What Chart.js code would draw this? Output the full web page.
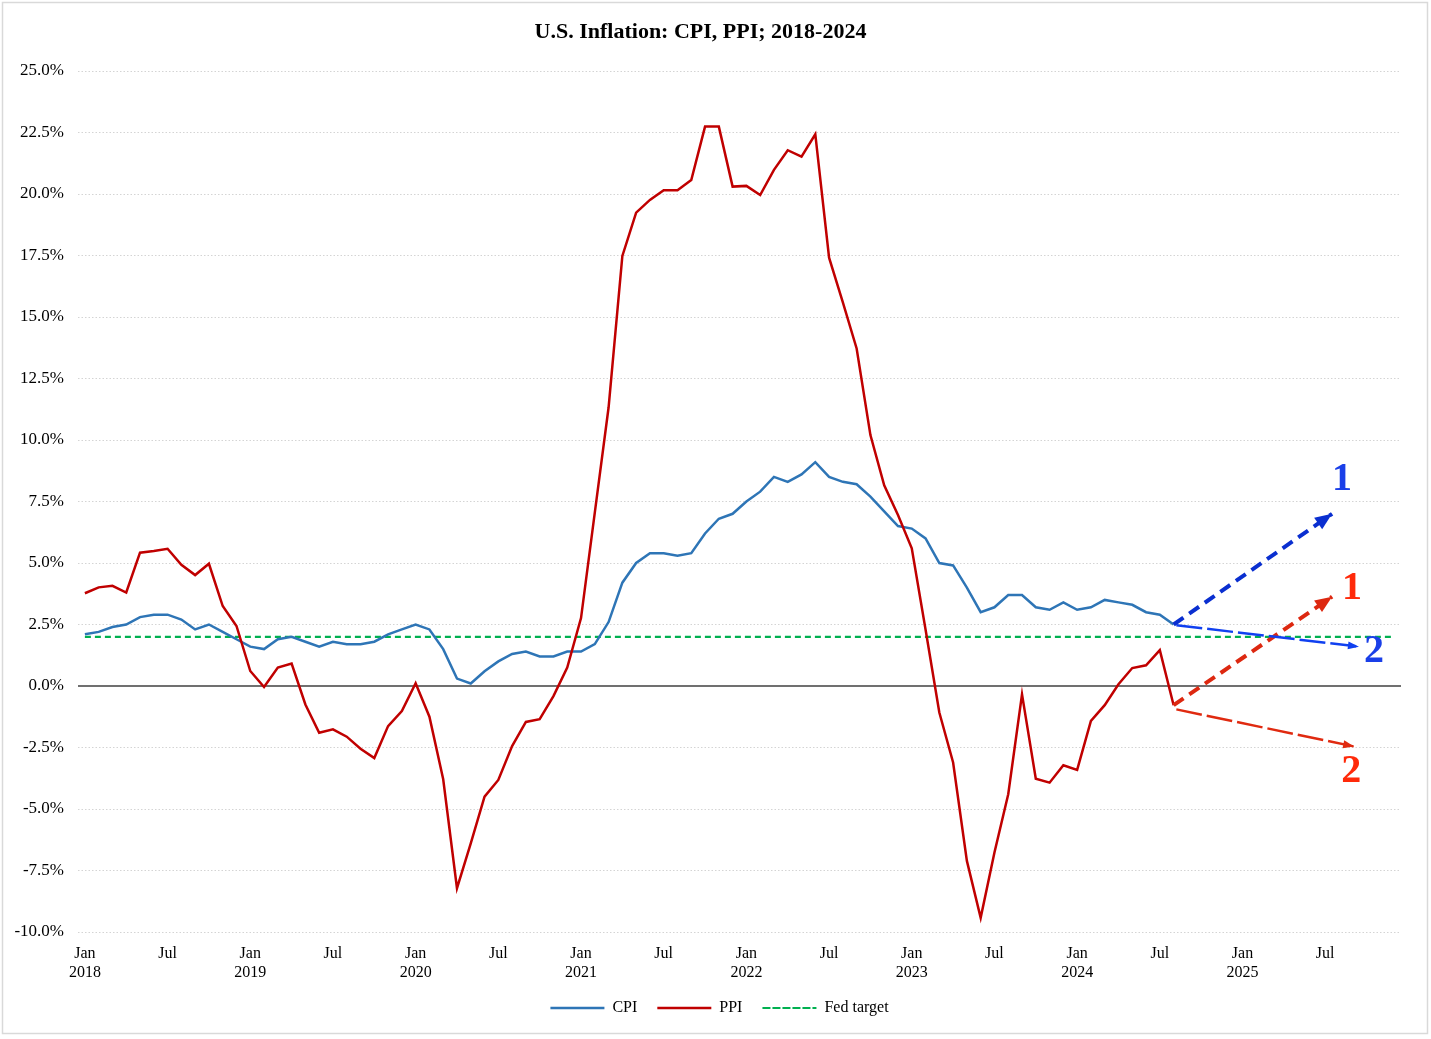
<!DOCTYPE html>
<html>
<head>
<meta charset="utf-8">
<title>U.S. Inflation: CPI, PPI; 2018-2024</title>
<script src="https://cdn.jsdelivr.net/npm/chart.js@4.4.1/dist/chart.umd.min.js"></script>
<style>
  html, body { margin: 0; padding: 0; background: #fff; }
  #wrap { width: 1431px; height: 1039px; position: relative; }
</style>
</head>
<body>
<div id="wrap"><canvas id="chart"></canvas></div>
<script>
// monthly categories, Jan 2018 .. Dec 2025
const years = [2018, 2019, 2020, 2021, 2022, 2023, 2024, 2025];
const monthNames = ['Jan', 'Feb', 'Mar', 'Apr', 'May', 'Jun', 'Jul', 'Aug', 'Sep', 'Oct', 'Nov', 'Dec'];
const months = [];
years.forEach(y => monthNames.forEach(m => months.push(m + ' ' + y)));

// year-over-year %, Jan 2018 .. Aug 2024
const cpi = [
  2.1, 2.2, 2.4, 2.5, 2.8, 2.9, 2.9, 2.7, 2.3, 2.5, 2.2, 1.9,
  1.6, 1.5, 1.9, 2.0, 1.8, 1.6, 1.8, 1.7, 1.7, 1.8, 2.1, 2.3,
  2.5, 2.3, 1.5, 0.3, 0.1, 0.6, 1.0, 1.3, 1.4, 1.2, 1.2, 1.4,
  1.4, 1.7, 2.6, 4.2, 5.0, 5.4, 5.4, 5.3, 5.4, 6.2, 6.8, 7.0,
  7.5, 7.9, 8.5, 8.3, 8.6, 9.1, 8.5, 8.3, 8.2, 7.7, 7.1, 6.5,
  6.4, 6.0, 5.0, 4.9, 4.0, 3.0, 3.2, 3.7, 3.7, 3.2, 3.1, 3.4,
  3.1, 3.2, 3.5, 3.4, 3.3, 3.0, 2.9, 2.5
];
const ppi = [
  3.77, 4.01, 4.07, 3.80, 5.42, 5.49, 5.58, 4.93, 4.51, 4.97, 3.25, 2.44,
  0.61, -0.04, 0.75, 0.91, -0.75, -1.90, -1.76, -2.06, -2.55, -2.93, -1.63, -1.02,
  0.11, -1.25, -3.79, -8.22, -6.40, -4.50, -3.82, -2.44, -1.46, -1.35, -0.41, 0.75,
  2.76, 7.05, 11.32, 17.48, 19.24, 19.76, 20.15, 20.15, 20.57, 22.74, 22.74, 20.30,
  20.33, 19.96, 20.98, 21.78, 21.52, 22.43, 17.41, 15.59, 13.72, 10.20, 8.16, 6.95,
  5.60, 2.30, -1.08, -3.11, -7.11, -9.42, -6.77, -4.40, -0.34, -3.77, -3.93, -3.22,
  -3.41, -1.42, -0.78, 0.07, 0.73, 0.84, 1.46, -0.78
];
const fedTarget = 2.0;

// scenario arrows: [start, end] as {x: month index, y: %}
const cpiUp = [{ x: 79, y: 2.5 }, { x: 90.5, y: 7.0 }];
const cpiDown = [{ x: 79.2, y: 2.47 }, { x: 92.45, y: 1.6 }];
const ppiUp = [{ x: 79, y: -0.78 }, { x: 90.5, y: 3.63 }];
const ppiDown = [{ x: 79.2, y: -0.95 }, { x: 92.1, y: -2.46 }];

const yTicks = { min: -10, max: 25, step: 2.5 };

const serif = '"Liberation Serif", "Times New Roman", serif';

// frame, zero line, arrow heads and the 1 / 2 tags
const extras = {
  id: 'extras',
  afterLayout(chart) {
    // legend in the original sits a bit right of the canvas centre
    chart.legend.left += 19;
    chart.legend.right += 19;
  },
  beforeDraw(chart) {
    const ctx = chart.ctx;
    ctx.save();
    ctx.fillStyle = '#fff';
    ctx.fillRect(0, 0, chart.width, chart.height);
    ctx.strokeStyle = '#d9d9d9';
    ctx.lineWidth = 1.5;
    ctx.strokeRect(2.5, 2.5, 1425, 1031);
    ctx.restore();
  },
  beforeDatasetsDraw(chart) {
    const ctx = chart.ctx;
    const a = chart.chartArea;
    const y0 = chart.scales.y.getPixelForValue(0);
    ctx.save();
    ctx.strokeStyle = '#404040';
    ctx.lineWidth = 1.5;
    ctx.beginPath();
    ctx.moveTo(a.left, y0);
    ctx.lineTo(a.right, y0);
    ctx.stroke();
    ctx.restore();
  },
  afterDatasetsDraw(chart) {
    const ctx = chart.ctx;
    chart.data.datasets.forEach((ds, i) => {
      if (!ds.head) return;
      const pts = chart.getDatasetMeta(i).data;
      const p1 = pts[pts.length - 2], p2 = pts[pts.length - 1];
      const ang = Math.atan2(p2.y - p1.y, p2.x - p1.x);
      const len = ds.head[0], half = ds.head[1] / 2;
      ctx.save();
      ctx.translate(p2.x, p2.y);
      ctx.rotate(ang);
      ctx.fillStyle = ds.borderColor;
      ctx.beginPath();
      ctx.moveTo(0, 0);
      ctx.lineTo(-len, -half);
      ctx.lineTo(-len, half);
      ctx.closePath();
      ctx.fill();
      ctx.restore();

      ctx.save();
      ctx.font = 'bold 40px ' + serif;
      ctx.fillStyle = ds.tagColor;
      ctx.textAlign = 'center';
      ctx.textBaseline = 'middle';
      ctx.fillText(ds.tag, p2.x + ds.tagOffset[0], p2.y + ds.tagOffset[1] + 2);
      ctx.restore();
    });
  }
};

function arrow(data, color, width, dash, head, tag, tagColor, tagOffset) {
  return {
    data: data,
    xAxisID: 'xp',
    borderColor: color,
    backgroundColor: color,
    borderWidth: width,
    borderDash: dash,
    pointRadius: 0,
    order: -1,
    head: head,
    tag: tag,
    tagColor: tagColor,
    tagOffset: tagOffset
  };
}

new Chart(document.getElementById('chart'), {
  type: 'line',
  data: {
    labels: months,
    datasets: [
      {
        label: 'CPI',
        data: cpi,
        borderColor: '#2E75B6',
        backgroundColor: '#2E75B6',
        borderWidth: 2.5,
        pointRadius: 0,
        order: 1
      },
      {
        label: 'PPI',
        data: ppi,
        borderColor: '#C00000',
        backgroundColor: '#C00000',
        borderWidth: 2.5,
        pointRadius: 0,
        order: 0
      },
      {
        label: 'Fed target',
        data: [{ x: months[0], y: fedTarget }, { x: months[months.length - 1], y: fedTarget }],
        borderColor: '#00B050',
        backgroundColor: '#00B050',
        borderWidth: 2.2,
        borderDash: [6, 4],
        pointRadius: 0,
        order: 2
      },
      arrow(cpiUp, '#0A2FD0', 4, [12, 7], [17, 14], '1', '#1A3FE8', [10, -36]),
      arrow(cpiDown, '#1040F0', 2.5, [26, 5], [11, 8], '2', '#1A3FE8', [15, 3]),
      arrow(ppiUp, '#DD2810', 4, [12, 7], [17, 14], '1', '#FF2A0A', [20, -10]),
      arrow(ppiDown, '#E02A10', 2.5, [26, 5], [11, 8], '2', '#FF2A0A', [-3, 23])
    ]
  },
  options: {
    responsive: true,
    maintainAspectRatio: false,
    animation: false,
    layout: { padding: { top: 0, left: 0, right: 30, bottom: 13 } },
    plugins: {
      title: {
        display: true,
        text: 'U.S. Inflation: CPI, PPI; 2018-2024',
        color: '#000',
        font: { family: serif, size: 22, weight: 'bold' },
        padding: { top: 19, bottom: 25.6 }
      },
      legend: {
        position: 'bottom',
        labels: {
          filter: item => !!item.text,
          sort: (a, b) => a.datasetIndex - b.datasetIndex,
          boxWidth: 54,
          boxHeight: 0,
          padding: 20,
          color: '#000',
          font: { family: serif, size: 16 }
        }
      },
      tooltip: { enabled: false }
    },
    scales: {
      x: {
        type: 'category',
        offset: true,
        grid: { display: false, drawTicks: false },
        border: { display: false },
        afterFit: s => { s.height = 48; },
        ticks: {
          autoSkip: false,
          maxRotation: 0,
          padding: 12,
          color: '#000',
          font: { family: serif, size: 16 },
          callback: function (value, index) {
            const m = index % 12;
            if (m === 0) return ['Jan', String(years[Math.floor(index / 12)])];
            if (m === 6) return 'Jul';
            return '';
          }
        }
      },
      xp: {
        type: 'linear',
        display: false,
        min: -0.5,
        max: months.length - 0.5
      },
      y: {
        min: yTicks.min,
        max: yTicks.max,
        afterFit: s => { s.width = 78; },
        grid: {
          drawTicks: false,
          lineWidth: 1,
          color: c => (c.tick && c.tick.value === 0) ? 'rgba(0,0,0,0)' : '#d4d4d4'
        },
        border: { display: false, dash: [1.5, 2] },
        ticks: {
          stepSize: yTicks.step,
          padding: 14,
          color: '#000',
          font: { family: serif, size: 17 },
          callback: v => v.toFixed(1) + '%'
        }
      }
    }
  },
  plugins: [extras]
});
</script>
</body>
</html>
